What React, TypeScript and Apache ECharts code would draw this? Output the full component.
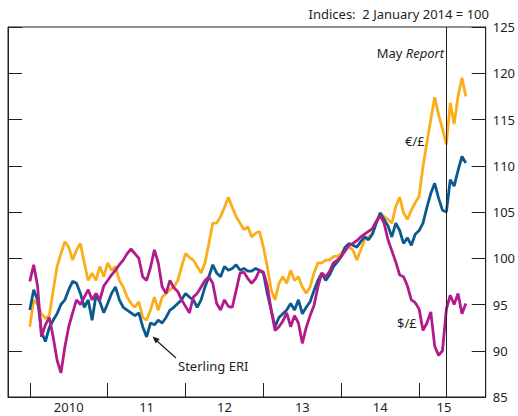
import React, { useEffect, useRef } from 'react';
import * as echarts from 'echarts';

// Indices: 2 January 2014 = 100, sampled every 1/20 year from January 2010
const euroSterling = [
  92.6, 95.5, 95.0, 94.0, 93.5, 93.8, 96.5, 99.1, 100.5, 101.8,
  101.2, 99.8, 100.9, 101.6, 99.5, 97.6, 98.4, 97.6, 99.1, 98.0,
  99.5, 98.7, 99.1, 97.6, 96.9, 95.8, 95.1, 94.7, 95.3, 93.6,
  93.3, 94.4, 95.8, 94.4, 95.8, 96.2, 96.6, 96.9, 97.6, 99.1,
  100.5, 100.1, 99.8, 99.1, 98.4, 99.5, 101.6, 103.8, 103.8, 104.5,
  105.5, 106.6, 105.5, 104.5, 103.8, 103.1, 103.4, 102.3, 102.7, 102.9,
  101.2, 99.1, 96.6, 95.5, 97.3, 98.0, 97.3, 98.7, 97.6, 98.0,
  96.9, 96.2, 96.9, 98.4, 99.5, 99.5, 99.8, 99.8, 100.2, 100.2,
  100.5, 101.2, 101.2, 100.9, 99.8, 100.9, 102.0, 102.3, 102.7, 103.8,
  104.9, 104.5, 104.2, 103.8, 105.6, 106.6, 104.9, 104.2, 105.2, 106.0,
  106.7, 109.9, 112.5, 115.0, 117.4, 115.5, 114.0, 112.3, 116.8, 114.5,
  117.5, 119.5, 117.5,
];
const sterlingERI = [
  94.4, 96.6, 95.5, 92.0, 91.0, 92.5, 93.3, 94.0, 95.0, 95.5,
  96.6, 97.5, 97.3, 96.2, 94.7, 95.5, 93.3, 96.0, 95.3, 94.1,
  95.1, 96.2, 96.9, 95.5, 94.7, 94.4, 94.1, 93.8, 94.1, 92.6,
  91.5, 93.0, 92.8, 93.3, 93.0, 93.6, 94.4, 94.7, 95.1, 95.5,
  96.2, 95.8, 95.5, 94.7, 95.5, 96.9, 98.0, 99.3, 98.4, 98.0,
  99.1, 98.7, 98.9, 99.3, 98.7, 98.9, 98.6, 98.6, 98.9, 98.7,
  98.4, 96.2, 94.4, 92.6, 93.6, 94.0, 94.4, 95.1, 94.4, 95.5,
  94.0, 94.7, 95.3, 96.5, 97.6, 98.4, 97.6, 98.2, 99.1, 99.6,
  100.2, 101.2, 101.6, 101.4, 101.2, 101.8, 102.3, 102.0, 102.6, 103.8,
  104.9, 104.2, 103.5, 102.3, 103.8, 103.0, 101.6, 102.2, 101.4, 102.6,
  103.0, 103.8, 105.5, 107.0, 108.1, 106.5, 105.2, 105.0, 108.5, 107.8,
  109.5, 111.0, 110.3,
];
const dollarSterling = [
  97.5, 99.3, 97.0, 91.5, 92.8, 93.6, 91.5, 89.0, 87.6, 90.4,
  92.6, 94.1, 95.5, 95.0, 95.8, 96.6, 95.5, 96.2, 95.5, 97.0,
  97.6, 98.2, 98.7, 99.3, 99.8, 100.5, 101.0, 100.5, 100.0, 98.0,
  97.6, 99.0, 100.9, 99.5, 96.9, 96.2, 97.6, 96.8, 96.4, 95.5,
  94.8, 94.1, 95.8, 96.2, 96.9, 97.6, 98.0, 97.3, 95.1, 94.4,
  95.5, 94.8, 94.7, 96.5, 98.4, 98.5, 97.8, 97.3, 97.8, 98.7,
  98.5, 97.0, 94.4, 92.2, 92.6, 93.2, 94.1, 92.6, 93.8, 93.0,
  90.8, 92.5, 93.8, 94.9, 96.9, 98.4, 98.0, 98.6, 99.5, 99.8,
  100.2, 100.8, 101.4, 101.6, 101.9, 102.3, 102.6, 102.9, 103.2, 104.0,
  104.6, 103.8, 102.0, 100.8, 99.6, 98.2, 98.0, 97.0, 95.5, 95.2,
  94.5, 92.2, 93.0, 94.2, 90.5, 89.5, 90.0, 94.5, 96.0, 95.0,
  96.2, 94.0, 95.1,
];
const dates = euroSterling.map((_, i) => 2010 + i / 20);

const xTickYears = [2010, 2011, 2012, 2013, 2014, 2015];
const xLabelPositions = [2010.5, 2011.5, 2012.5, 2013.5, 2014.5, 2015.32];
const xLabels = ['2010', '11', '12', '13', '14', '15'];
const mayReport = 2015.35;

const FONT = '"Noto Sans", "Open Sans", sans-serif';
const TEXT = '#231f20';
const AXIS = '#231f20';

export default function App() {
  const ref = useRef<HTMLDivElement>(null);
  useEffect(() => {
    if (!ref.current) return;
    const chart = echarts.init(ref.current, undefined, { renderer: 'svg' });
    const toPairs = (arr: number[]) => arr.map((v, i) => [dates[i], v]);
    const yBase = {
      type: 'value',
      min: 85,
      max: 125,
      interval: 5,
      splitLine: { show: false },
      axisLine: { show: true, lineStyle: { color: AXIS, width: 1 } },
      axisTick: { show: true, inside: true, length: 14, lineStyle: { color: AXIS, width: 1 } },
    };
    const txt = (text: string, x: number, y: number, align: string, extra: any = {}) => ({
      type: 'text',
      x,
      y,
      silent: true,
      style: {
        text,
        fill: TEXT,
        font: `13px ${FONT}`,
        fontSize: 13,
        fontFamily: FONT,
        align,
        textAlign: align,
        verticalAlign: 'middle',
        textVerticalAlign: 'middle',
        ...extra,
      },
    });
    chart.setOption({
      animation: false,
      textStyle: { fontFamily: FONT },
      grid: {
        left: 8,
        top: 27,
        right: 29,
        bottom: 19,
        show: true,
        borderColor: AXIS,
        borderWidth: 1,
        containLabel: false,
      },
      xAxis: {
        type: 'value',
        min: 2009.72,
        max: 2015.855,
        splitLine: { show: false },
        axisLine: { show: true, lineStyle: { color: AXIS, width: 1 } },
        axisTick: {
          show: true,
          inside: true,
          length: 14,
          customValues: xTickYears,
          lineStyle: { color: AXIS, width: 1 },
        },
        axisLabel: {
          show: true,
          customValues: xLabelPositions,
          formatter: (v: number) => {
            const idx = xLabelPositions.findIndex((p) => Math.abs(p - v) < 1e-6);
            return idx >= 0 ? xLabels[idx] : '';
          },
          color: TEXT,
          fontSize: 13,
          fontFamily: FONT,
          margin: 3,
        },
      },
      yAxis: [
        {
          ...yBase,
          position: 'right',
          axisLabel: { show: true, color: TEXT, fontSize: 13, fontFamily: FONT, margin: 7 },
        },
        {
          ...yBase,
          position: 'left',
          axisLabel: { show: false },
        },
      ],
      series: [
        {
          name: '€/£',
          type: 'line',
          data: toPairs(euroSterling),
          showSymbol: false,
          lineStyle: { color: '#FAAE1C', width: 2.8 },
          itemStyle: { color: '#FAAE1C' },
          z: 2,
        },
        {
          name: 'Sterling ERI',
          type: 'line',
          data: toPairs(sterlingERI),
          showSymbol: false,
          lineStyle: { color: '#0B5A8E', width: 2.8 },
          itemStyle: { color: '#0B5A8E' },
          z: 3,
        },
        {
          name: '$/£',
          type: 'line',
          data: toPairs(dollarSterling),
          showSymbol: false,
          lineStyle: { color: '#B21B8A', width: 2.8 },
          itemStyle: { color: '#B21B8A' },
          z: 4,
          markLine: {
            silent: true,
            symbol: 'none',
            label: { show: false },
            lineStyle: { color: AXIS, width: 1, type: 'solid' },
            data: [{ xAxis: mayReport }],
          },
        },
      ],
      graphic: [
        txt('Indices:  2 January 2014 = 100', 489, 14, 'right'),
        {
          type: 'text',
          x: 444,
          y: 53,
          silent: true,
          style: {
            text: '{a|May }{b|Report}',
            align: 'right',
            textAlign: 'right',
            verticalAlign: 'middle',
            textVerticalAlign: 'middle',
            fill: TEXT,
            fontSize: 13,
            fontFamily: FONT,
            rich: {
              a: { fontSize: 13, fontFamily: FONT, fill: TEXT, color: TEXT },
              b: { fontSize: 13, fontFamily: FONT, fontStyle: 'italic', fill: TEXT, color: TEXT },
            },
          },
        },
        txt('€/£', 405, 141, 'left'),
        txt('$/£', 397, 323, 'left'),
        txt('Sterling ERI', 178, 366, 'left'),
        {
          type: 'line',
          silent: true,
          shape: { x1: 176, y1: 358, x2: 157, y2: 341 },
          style: { stroke: AXIS, lineWidth: 1.2 },
        },
        {
          type: 'polygon',
          silent: true,
          shape: { points: [[152.5, 336.5], [159.7, 339.0], [155.7, 343.4]] },
          style: { fill: AXIS },
        },
      ],
    });
    return () => chart.dispose();
  }, []);
  return (
    <div
      ref={ref}
      style={{ position: 'fixed', left: 0, top: 0, width: 518, height: 416, background: '#fff' }}
    />
  );
}
